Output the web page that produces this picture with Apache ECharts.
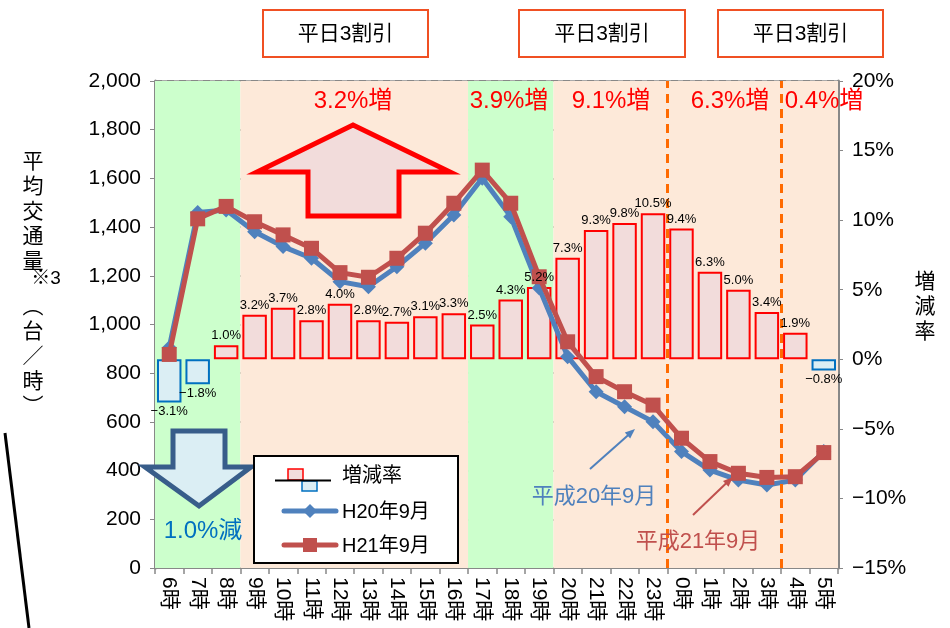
<!DOCTYPE html>
<html><head><meta charset="utf-8">
<script src="https://cdn.jsdelivr.net/npm/echarts@6/dist/echarts.min.js"></script>
<style>html,body{margin:0;padding:0;background:#fff}#c{width:950px;height:628px}</style>
</head><body><div id="c"></div>
<script>
const hours = ['6時','7時','8時','9時','10時','11時','12時','13時','14時','15時','16時','17時','18時','19時','20時','21時','22時','23時','0時','1時','2時','3時','4時','5時'];
const rateValues = [-3.1,-1.8,1.0,3.2,3.7,2.8,4.0,2.8,2.7,3.1,3.3,2.5,4.3,5.2,7.3,9.3,9.8,10.5,9.4,6.3,5.0,3.4,1.9,-0.8];
const h20Values = [905,1460,1470,1381,1320,1272,1176,1155,1237,1334,1450,1601,1443,1150,868,724,662,601,478,402,361,341,361,478];
const h21Values = [877,1434,1485,1422,1368,1313,1213,1194,1272,1375,1498,1634,1498,1196,929,786,724,669,533,437,389,372,375,474];
const leftAxisRange = [0, 2000, 200];
const rightAxisRange = [-15, 20, 5];
const bandStarts = [0, 3, 11, 14];
const bandEnds = [3, 11, 14, 24];
const bandKinds = ['green', 'peach', 'green', 'peach'];
const dividerPositions = [18, 22];
const periodTexts = ['3.2%増', '3.9%増', '9.1%増', '6.3%増', '0.4%増'];
const seriesNames = ['増減率', 'H20年9月', 'H21年9月'];

const FONT = "'Liberation Sans', 'Noto Sans CJK JP', sans-serif";
const bandColors = { green: '#ccffcc', peach: '#fde9d9' };
const fmtPct = v => (v < 0 ? '−' + Math.abs(v).toFixed(1) : v.toFixed(1)) + '%';

const chart = echarts.init(document.getElementById('c'));

const barData = rateValues.map(v => ({
  value: v,
  itemStyle: v < 0 ? { color: '#dbeef4', borderColor: '#0070c0', borderWidth: 2 }
                   : { color: '#f2dcdb', borderColor: '#ff0000', borderWidth: 2 }
}));
const labelData = rateValues.map(v => ({
  value: v,
  label: { position: v < 0 ? 'bottom' : 'top', distance: 3 }
}));

const areas = bandStarts.map((s, i) => [
  { xAxis: s, itemStyle: { color: bandColors[bandKinds[i]] } },
  { xAxis: bandEnds[i] }
]);

function txt(text, x, y, size, color, extra) {
  return Object.assign({ type: 'text', x: x, y: y, z: 50,
    style: Object.assign({ text: text, fontSize: size, fill: color, fontFamily: FONT, align: 'center', verticalAlign: 'middle' }, extra || {}) });
}

const graphics = [];
// top boxes
[[263, 428], [519, 685], [718, 883]].forEach(b => {
  graphics.push({ type: 'rect', z: 50, shape: { x: b[0], y: 10, width: b[1] - b[0], height: 47 },
    style: { fill: '#fff', stroke: '#f05023', lineWidth: 2 } });
  graphics.push(txt('平日3割引', (b[0] + b[1]) / 2, 34, 21, '#000'));
});
// period texts
[353, 509, 611, 730, 824].forEach((x, i) => graphics.push(txt(periodTexts[i], x, 101, 24, '#ff0000')));
// up arrow
graphics.push({ type: 'polygon', z: 40, shape: { points: [[353,125],[450,172],[399,172],[399,216],[308,216],[308,172],[257,172]] },
  style: { fill: '#f2dcdb', stroke: '#ff0000', lineWidth: 5, lineJoin: 'miter' } });
// down arrow
graphics.push({ type: 'polygon', z: 40, shape: { points: [[173,431],[225,431],[225,467],[251,467],[199,506],[145,467],[173,467]] },
  style: { fill: '#dbeef4', stroke: '#385d8a', lineWidth: 5, lineJoin: 'miter' } });
graphics.push(txt('1.0%減', 203, 531, 24, '#0070c0'));
// annotations
graphics.push(txt('平成20年9月', 594, 497, 22, '#4f81bd'));
graphics.push({ type: 'line', z: 50, shape: { x1: 590, y1: 469, x2: 630, y2: 433.5 }, style: { stroke: '#4f81bd', lineWidth: 2 } });
graphics.push({ type: 'polygon', z: 50, shape: { points: [[635,429],[630.2,438.6],[624.8,432.6]] }, style: { fill: '#4f81bd' } });
graphics.push(txt('平成21年9月', 698, 542, 22, '#c0504d'));
graphics.push({ type: 'line', z: 50, shape: { x1: 693, y1: 515, x2: 728, y2: 481.5 }, style: { stroke: '#c0504d', lineWidth: 2 } });
graphics.push({ type: 'polygon', z: 50, shape: { points: [[733,477],[728.5,486.8],[723,481]] }, style: { fill: '#c0504d' } });
// legend
graphics.push({ type: 'rect', z: 45, shape: { x: 254, y: 456, width: 204, height: 107 }, style: { fill: '#fff', stroke: '#000', lineWidth: 2 } });
graphics.push({ type: 'rect', z: 46, shape: { x: 288, y: 469, width: 15, height: 11 }, style: { fill: '#f2dcdb', stroke: '#ff0000', lineWidth: 1.5 } });
graphics.push({ type: 'rect', z: 46, shape: { x: 302, y: 481, width: 15, height: 10 }, style: { fill: '#dbeef4', stroke: '#0070c0', lineWidth: 1.5 } });
graphics.push({ type: 'line', z: 47, shape: { x1: 275, y1: 480.5, x2: 331, y2: 480.5 }, style: { stroke: '#000', lineWidth: 2 } });
graphics.push(txt(seriesNames[0], 342, 476, 20, '#000', { align: 'left' }));
graphics.push({ type: 'line', z: 46, shape: { x1: 284, y1: 511, x2: 336, y2: 511 }, style: { stroke: '#4f81bd', lineWidth: 5, lineCap: 'round' } });
graphics.push({ type: 'polygon', z: 47, shape: { points: [[310,504],[317,511],[310,518],[303,511]] }, style: { fill: '#4f81bd' } });
graphics.push(txt(seriesNames[1], 342, 512, 20, '#000', { align: 'left' }));
graphics.push({ type: 'line', z: 46, shape: { x1: 284, y1: 545, x2: 336, y2: 545 }, style: { stroke: '#c0504d', lineWidth: 5, lineCap: 'round' } });
graphics.push({ type: 'rect', z: 47, shape: { x: 303, y: 538, width: 14, height: 14 }, style: { fill: '#c0504d' } });
graphics.push(txt(seriesNames[2], 342, 546, 20, '#000', { align: 'left' }));
// axis names
graphics.push(txt('平\n均\n交\n通\n量', 33, 212, 21, '#000', { lineHeight: 25 }));
graphics.push(txt('※3', 46, 279, 19, '#000'));
graphics.push(txt('︵\n台\n／\n時\n︶', 33, 357, 21, '#000', { lineHeight: 25 }));
graphics.push(txt('増\n減\n率', 925, 307, 21, '#000', { lineHeight: 25 }));
// stray black line
graphics.push({ type: 'line', z: 50, shape: { x1: 5, y1: 433, x2: 29, y2: 628 }, style: { stroke: '#000', lineWidth: 3 } });

chart.setOption({
  animation: false,
  textStyle: { fontFamily: FONT },
  grid: { left: 155, right: 112, top: 81, bottom: 60, show: true, borderColor: '#555', borderWidth: 1, backgroundColor: 'transparent' },
  xAxis: [
    { type: 'category', data: hours, boundaryGap: true,
      axisLine: { lineStyle: { color: '#888', width: 2 } },
      axisTick: { show: true, length: 6, lineStyle: { color: '#888', width: 1.5 } },
      axisLabel: { rotate: -90, color: '#000', fontSize: 21, margin: 9, interval: 0 } },
    { type: 'value', min: 0, max: 24, show: false }
  ],
  yAxis: [
    { type: 'value', min: leftAxisRange[0], max: leftAxisRange[1], interval: leftAxisRange[2],
      axisLine: { show: true, lineStyle: { color: '#888', width: 3 } },
      axisTick: { show: true, length: 5, lineStyle: { color: '#888' } },
      axisLabel: { color: '#000', fontSize: 21, margin: 14, formatter: v => v.toLocaleString('en-US') },
      splitLine: { show: true, lineStyle: { color: '#888', width: 2, type: [7, 5] } } },
    { type: 'value', min: rightAxisRange[0], max: rightAxisRange[1], interval: rightAxisRange[2],
      axisLine: { show: true, lineStyle: { color: '#888', width: 3 } },
      axisTick: { show: true, length: 5, lineStyle: { color: '#888' } },
      axisLabel: { color: '#000', fontSize: 21, margin: 14, formatter: v => (v < 0 ? '−' + Math.abs(v) : v) + '%' },
      splitLine: { show: false } }
  ],
  series: [
    { type: 'scatter', name: 'bands', xAxisIndex: 1, yAxisIndex: 0, data: [[0, 0]], symbolSize: 0, z: -1, silent: true,
      markArea: { silent: true, data: areas } },
    { type: 'bar', name: seriesNames[0], xAxisIndex: 0, yAxisIndex: 1, data: barData, barWidth: '86%', z: 2 },
    { type: 'bar', name: 'labels', xAxisIndex: 0, yAxisIndex: 1, data: labelData, barWidth: '86%', barGap: '-100%', z: 8, silent: true,
      itemStyle: { color: 'rgba(0,0,0,0)', borderWidth: 0 },
      label: { show: true, color: '#000', fontSize: 13, formatter: p => fmtPct(p.value) } },
    { type: 'scatter', name: 'dividers', xAxisIndex: 1, yAxisIndex: 0, data: [[0, 0]], symbolSize: 0, z: 3, silent: true,
      markLine: { silent: true, symbol: 'none', label: { show: false },
        lineStyle: { color: '#ff6a00', width: 3, type: [9, 6] },
        data: dividerPositions.map(p => ({ xAxis: p })) } },
    { type: 'line', name: seriesNames[1], xAxisIndex: 0, yAxisIndex: 0, data: h20Values, z: 4,
      symbol: 'diamond', symbolSize: 15, lineStyle: { color: '#4f81bd', width: 5 }, itemStyle: { color: '#4f81bd' } },
    { type: 'line', name: seriesNames[2], xAxisIndex: 0, yAxisIndex: 0, data: h21Values, z: 5,
      symbol: 'rect', symbolSize: 15, lineStyle: { color: '#c0504d', width: 5 }, itemStyle: { color: '#c0504d' } }
  ],
  graphic: graphics
});
</script></body></html>
